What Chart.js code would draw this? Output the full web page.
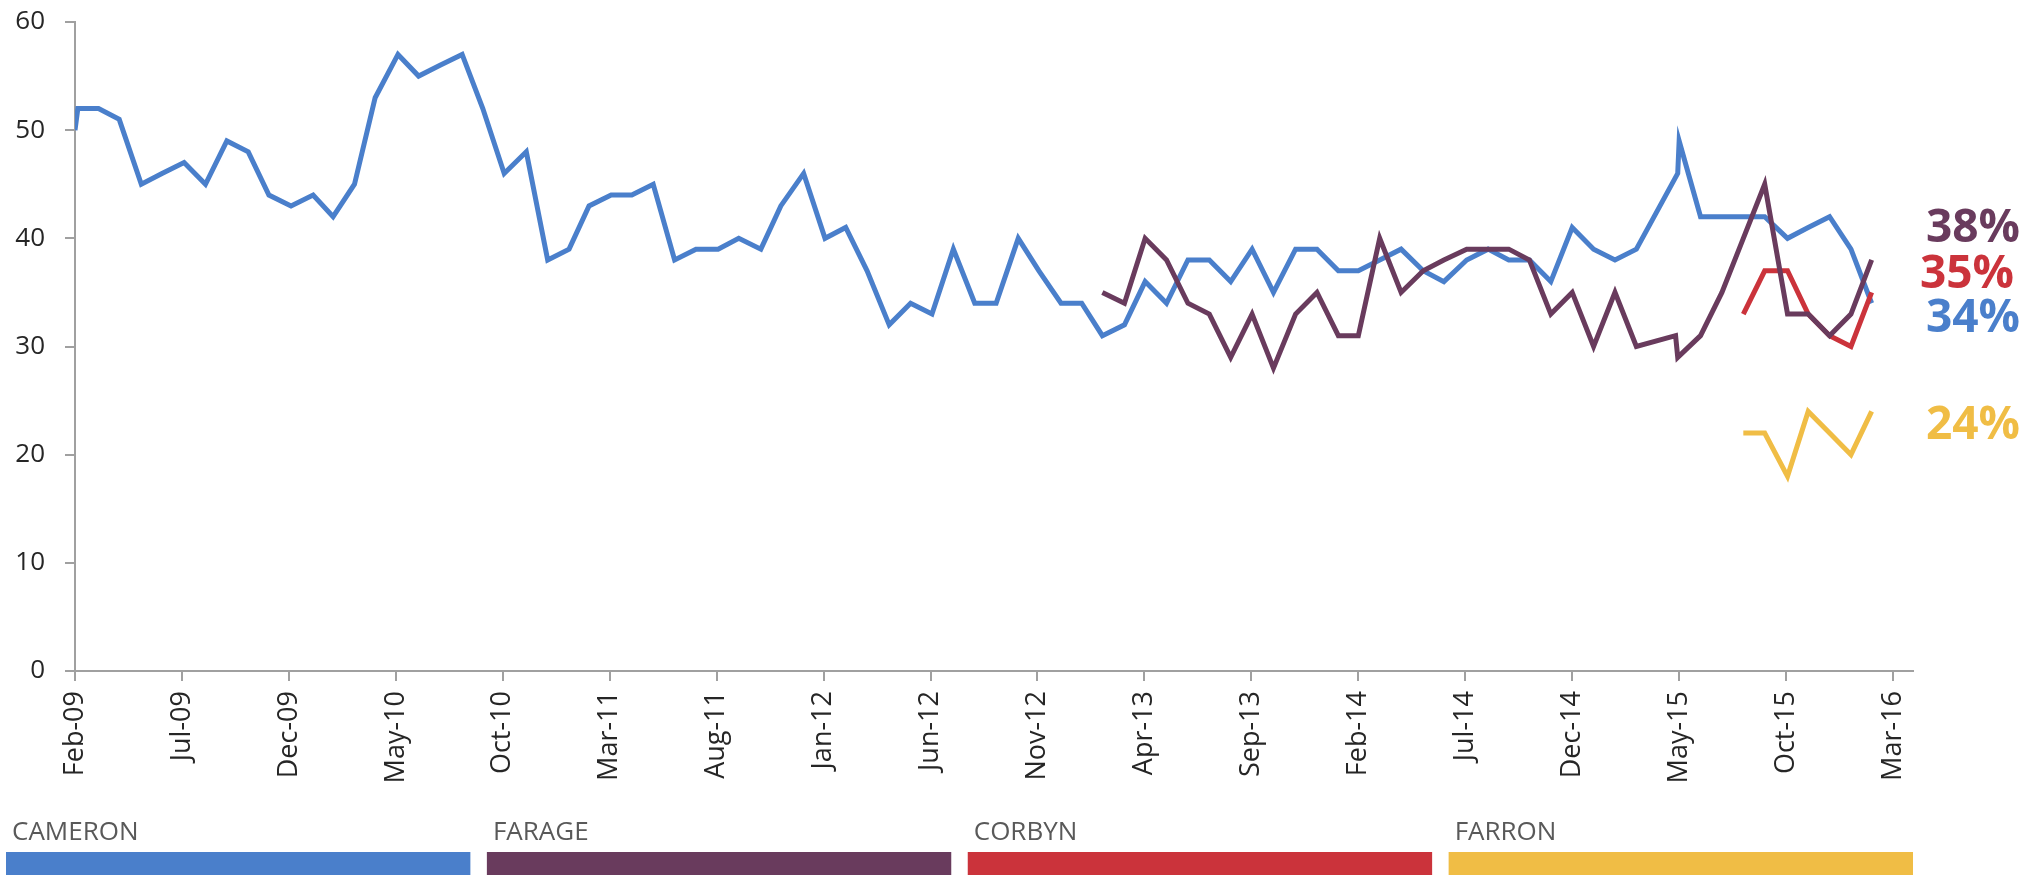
<!DOCTYPE html>
<html>
<head>
<meta charset="utf-8">
<script src="https://cdn.jsdelivr.net/npm/chart.js@4.4.1/dist/chart.umd.min.js"></script>
<style>
html, body { margin: 0; padding: 0; background: #fff; }
</style>
</head>
<body>
<canvas id="chart" width="2044" height="875"></canvas>
<script>
// poll data, one date per point (monthly, plus election week in 2015)
var cameronDates = [
  "2009-02-01", "2009-02-05", "2009-03-04", "2009-04-03", "2009-05-04", "2009-06-03", "2009-07-04", "2009-08-04",
  "2009-09-04", "2009-10-04", "2009-11-03", "2009-12-04", "2010-01-05", "2010-02-03", "2010-03-03", "2010-04-02",
  "2010-05-04", "2010-06-03", "2010-07-03", "2010-08-04", "2010-09-03", "2010-10-03", "2010-11-04", "2010-12-04",
  "2011-01-04", "2011-02-02", "2011-03-03", "2011-04-02", "2011-05-02", "2011-06-02", "2011-07-02", "2011-08-03",
  "2011-09-02", "2011-10-03", "2011-11-01", "2011-12-03", "2012-01-03", "2012-02-02", "2012-03-02", "2012-04-03",
  "2012-05-03", "2012-06-03", "2012-07-03", "2012-08-03", "2012-09-03", "2012-10-04", "2012-11-03", "2012-12-04",
  "2013-01-03", "2013-02-02", "2013-03-03", "2013-04-02", "2013-05-02", "2013-06-02", "2013-07-02", "2013-08-02",
  "2013-09-02", "2013-10-02", "2013-11-03", "2013-12-03", "2014-01-03", "2014-02-01", "2014-03-01", "2014-04-01",
  "2014-05-02", "2014-06-01", "2014-07-03", "2014-08-03", "2014-09-02", "2014-10-01", "2014-11-01", "2014-12-01",
  "2015-01-01", "2015-02-01", "2015-03-01", "2015-04-29", "2015-05-01", "2015-06-01", "2015-07-01", "2015-08-01",
  "2015-09-01", "2015-10-03", "2015-11-02", "2015-12-02", "2016-01-02", "2016-02-01"
];
var cameronValues = [
  50, 52, 52, 51, 45, 46, 47, 45,
  49, 48, 44, 43, 44, 42, 45, 53,
  57, 55, 56, 57, 52, 46, 48, 38,
  39, 43, 44, 44, 45, 38, 39, 39,
  40, 39, 43, 46, 40, 41, 37, 32,
  34, 33, 39, 34, 34, 40, 37, 34,
  34, 31, 32, 36, 34, 38, 38, 36,
  39, 35, 39, 39, 37, 37, 38, 39,
  37, 36, 38, 39, 38, 38, 36, 41,
  39, 38, 39, 46, 49, 42, 42, 42,
  42, 40, 41, 42, 39, 34
];

var farageDates = [
  "2013-02-02", "2013-03-03", "2013-04-02", "2013-05-02", "2013-06-02", "2013-07-02", "2013-08-02", "2013-09-02",
  "2013-10-02", "2013-11-03", "2013-12-03", "2014-01-03", "2014-02-01", "2014-03-01", "2014-04-01", "2014-05-02",
  "2014-06-01", "2014-07-03", "2014-08-03", "2014-09-02", "2014-10-01", "2014-11-01", "2014-12-01", "2015-01-01",
  "2015-02-01", "2015-03-01", "2015-04-26", "2015-04-29", "2015-05-31", "2015-07-01", "2015-08-01", "2015-09-01",
  "2015-10-03", "2015-11-02", "2015-12-02", "2016-01-02", "2016-02-01"
];
var farageValues = [
  35, 34, 40, 38, 34, 33, 29, 33,
  28, 33, 35, 31, 31, 40, 35, 37,
  38, 39, 39, 39, 38, 33, 35, 30,
  35, 30, 31, 29, 31, 35, 40, 45,
  33, 33, 31, 33, 38
];

var corbynDates = ["2015-08-01", "2015-09-01", "2015-10-03", "2015-11-02", "2015-12-02", "2016-01-02", "2016-02-01"];
var corbynValues = [33, 37, 37, 33, 31, 30, 35];

var farronDates = ["2015-08-01", "2015-09-01", "2015-10-03", "2015-11-02", "2015-12-02", "2016-01-02", "2016-02-01"];
var farronValues = [22, 22, 18, 24, 22, 20, 24];

var seriesNames = ["CAMERON", "FARAGE", "CORBYN", "FARRON"];

var tickLabels = ["Feb-09", "Jul-09", "Dec-09", "May-10", "Oct-10", "Mar-11", "Aug-11", "Jan-12", "Jun-12",
  "Nov-12", "Apr-13", "Sep-13", "Feb-14", "Jul-14", "Dec-14", "May-15", "Oct-15", "Mar-16"];
var axisStart = "2009-02-01";
var axisEnd = "2016-03-29";

var monthNames = ["Jan", "Feb", "Mar", "Apr", "May", "Jun", "Jul", "Aug", "Sep", "Oct", "Nov", "Dec"];

// months since Feb 2009, fractional by day
function monthOffset(dateStr) {
    var p = dateStr.split("-").map(Number);
    return (p[0] - 2009) * 12 + (p[1] - 2) + (p[2] - 1) / 30;
}

function tickOffset(label) {
    var m = monthNames.indexOf(label.substr(0, 3)) + 1;
    var y = 2000 + parseInt(label.substr(4), 10);
    return (y - 2009) * 12 + (m - 2);
}

function toPoints(dates, values) {
    return dates.map(function (d, i) { return { x: monthOffset(d), y: values[i] }; });
}

var colors = ["#4A7FCB", "#693B5D", "#CB333B", "#F0BD45"];
// nudges for the end-of-line percentage labels, in pixels
var labelNudge = [
    { dx: 13, dy: 16 },
    { dx: 13, dy: -31 },
    { dx: 7, dy: -18 },
    { dx: 13, dy: 14 }
];

const endLabels = {
    id: "endLabels",
    afterDatasetsDraw(chart) {
        const ctx = chart.ctx;
        const yScale = chart.scales.y;
        const area = chart.chartArea;
        ctx.save();
        ctx.font = "bold 46px 'Open Sans'";
        ctx.textAlign = "left";
        ctx.textBaseline = "middle";
        chart.data.datasets.forEach(function (ds, i) {
            var last = ds.data[ds.data.length - 1].y;
            ctx.fillStyle = ds.borderColor;
            ctx.fillText(last + "%", area.right + labelNudge[i].dx, yScale.getPixelForValue(last) + labelNudge[i].dy);
        });
        ctx.restore();
    }
};

const barLegend = {
    id: "barLegend",
    afterDraw(chart) {
        const ctx = chart.ctx;
        const area = chart.chartArea;
        const left = 6, gap = 16.5, top = 852;
        const w = (area.right - left - gap * 3) / 4;
        ctx.save();
        ctx.font = "26px 'Open Sans'";
        ctx.textAlign = "left";
        ctx.textBaseline = "alphabetic";
        seriesNames.forEach(function (name, i) {
            var x = left + i * (w + gap);
            ctx.fillStyle = colors[i];
            ctx.fillRect(x, top, w, chart.height - top);
            ctx.fillStyle = "#595959";
            ctx.fillText(name, x + 6, 840);
        });
        ctx.restore();
    }
};

function lineSet(label, dates, values, i, order) {
    return {
        label: label,
        data: toPoints(dates, values),
        borderColor: colors[i],
        backgroundColor: colors[i],
        borderWidth: 5,
        pointRadius: 0,
        tension: 0,
        fill: false,
        order: order
    };
}

const ctx = document.getElementById("chart").getContext("2d");
var chartId = new Chart(ctx, {
    type: "line",
    data: {
        datasets: [
            lineSet(seriesNames[0], cameronDates, cameronValues, 0, 4),
            lineSet(seriesNames[1], farageDates, farageValues, 1, 1),
            lineSet(seriesNames[2], corbynDates, corbynValues, 2, 3),
            lineSet(seriesNames[3], farronDates, farronValues, 3, 2)
        ]
    },
    options: {
        responsive: false,
        animation: false,
        layout: {
            padding: { left: 0, top: 22, right: 131, bottom: 74 }
        },
        scales: {
            x: {
                type: "linear",
                min: monthOffset(axisStart),
                max: monthOffset(axisEnd),
                afterBuildTicks: function (scale) {
                    scale.ticks = tickLabels.map(function (l) { return { value: tickOffset(l) }; });
                },
                afterFit: function (scale) { scale.height = 130; },
                border: { display: true, color: "#A0A0A0", width: 2 },
                grid: { drawOnChartArea: false, drawTicks: true, tickLength: 10, color: "#A0A0A0", lineWidth: 2 },
                ticks: {
                    autoSkip: false,
                    maxRotation: 90,
                    minRotation: 90,
                    padding: 10,
                    color: "#262626",
                    font: { family: "'Open Sans'", size: 27 },
                    callback: function (value, index) { return tickLabels[index]; }
                }
            },
            y: {
                min: 0,
                max: 60,
                afterFit: function (scale) {
                    scale.width = 75;
                    scale.paddingTop = 0;
                    scale.paddingBottom = 0;
                },
                border: { display: true, color: "#A0A0A0", width: 2 },
                grid: { drawOnChartArea: false, drawTicks: true, tickLength: 10, color: "#A0A0A0", lineWidth: 2 },
                ticks: {
                    stepSize: 10,
                    padding: 20,
                    color: "#262626",
                    font: { family: "'Open Sans'", size: 26 }
                }
            }
        },
        plugins: {
            legend: { display: false },
            tooltip: { enabled: false }
        }
    },
    plugins: [endLabels, barLegend]
});
</script>
</body>
</html>
